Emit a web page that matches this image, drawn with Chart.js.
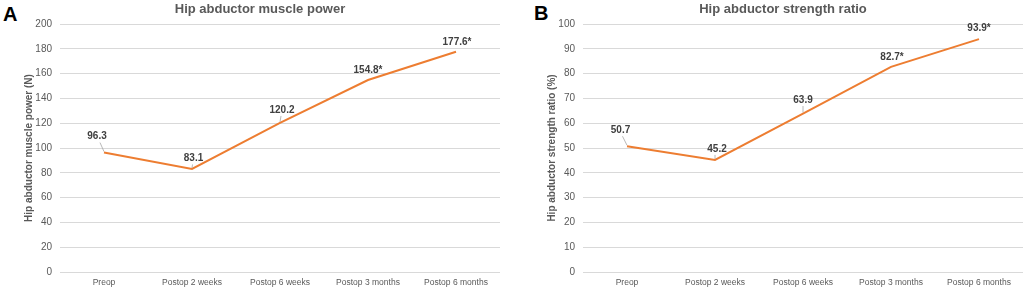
<!DOCTYPE html>
<html>
<head>
<meta charset="utf-8">
<script src="https://cdn.jsdelivr.net/npm/chart.js@4/dist/chart.umd.min.js"></script>
<style>
  html, body { margin: 0; padding: 0; background: #fff; }
  body { width: 1026px; height: 289px; position: relative; overflow: hidden; font-family: 'Liberation Sans', Arial, sans-serif; }
  .panel { position: absolute; top: 0; }
  .letter { position: absolute; font-weight: bold; font-size: 20px; line-height: 20px; color: #000; }
</style>
</head>
<body>
<div class="letter" style="left:3px;top:4px;">A</div>
<div class="letter" style="left:534px;top:3px;">B</div>
<canvas id="chartA" class="panel" width="510" height="289" style="left:0px;"></canvas>
<canvas id="chartB" class="panel" width="516" height="289" style="left:510px;"></canvas>
<script>
// ---- data ----
const categories = ['Preop', 'Postop 2 weeks', 'Postop 6 weeks', 'Postop 3 months', 'Postop 6 months'];
const powerValues = [96.3, 83.1, 120.2, 154.8, 177.6];
const ratioValues = [50.7, 45.2, 63.9, 82.7, 93.9];
const significant = [false, false, false, true, true];
const powerTitle = 'Hip abductor muscle power';
const ratioTitle = 'Hip abductor strength ratio';
const powerAxisTitle = 'Hip abductor muscle power (N)';
const ratioAxisTitle = 'Hip abductor strength ratio (%)';

const FONT = "'Liberation Sans', Arial, sans-serif";
const GRAY = '#595959';

const pointLabelPlugin = {
  id: 'pointLabels',
  afterDatasetsDraw(chart, args, opts) {
    const ctx = chart.ctx;
    const meta = chart.getDatasetMeta(0);
    const vals = chart.data.datasets[0].data;
    ctx.save();
    ctx.font = 'bold 10px ' + FONT;
    ctx.textAlign = 'center';
    ctx.textBaseline = 'middle';
    meta.data.forEach((pt, i) => {
      const o = opts.offsets[i];
      const lx = pt.x + o[0], ly = pt.y + o[1];
      const txt = vals[i].toFixed(1) + (significant[i] ? '*' : '');
      if (o[2]) {
        ctx.strokeStyle = '#a6a6a6';
        ctx.lineWidth = 0.8;
        ctx.beginPath();
        ctx.moveTo(lx + o[3], ly + 6);
        ctx.lineTo(pt.x, pt.y - 1);
        ctx.stroke();
      }
      ctx.fillStyle = '#404040';
      ctx.fillText(txt, lx, ly);
    });
    ctx.restore();
  }
};

function makeChart(id, values, title, axisTitle, maxV, step, padLeft, padRight, offsets) {
  return new Chart(document.getElementById(id), {
    type: 'line',
    data: {
      labels: categories,
      datasets: [{
        data: values,
        borderColor: '#ED7D31',
        borderWidth: 2,
        pointRadius: 0,
        tension: 0,
        fill: false
      }]
    },
    options: {
      responsive: false,
      animation: false,
      devicePixelRatio: 1,
      layout: { padding: { left: padLeft, right: padRight, top: 0, bottom: 0 } },
      plugins: {
        legend: { display: false },
        tooltip: { enabled: false },
        title: {
          display: true,
          text: title,
          color: GRAY,
          font: { family: FONT, size: 13, weight: 'bold' },
          padding: { top: 2, bottom: 6.4 }
        },
        pointLabels: { offsets: offsets }
      },
      scales: {
        x: {
          offset: true,
          grid: { display: false, drawTicks: false },
          border: { display: false },
          ticks: {
            color: GRAY,
            font: { family: FONT, size: 8.5 },
            padding: 6,
            maxRotation: 0,
            autoSkip: false
          },
          afterFit(scale) { scale.height = 17; }
        },
        y: {
          min: 0,
          max: maxV,
          grid: { color: '#d9d9d9', lineWidth: 1, drawTicks: false },
          border: { display: false },
          ticks: {
            stepSize: step,
            color: GRAY,
            font: { family: FONT, size: 10 },
            padding: 8
          },
          title: {
            display: true,
            text: axisTitle,
            color: GRAY,
            font: { family: FONT, size: 10, weight: 'bold' },
            padding: { top: 3, bottom: 0 }
          },
          afterFit(scale) { scale.width = 40; }
        }
      }
    },
    plugins: [pointLabelPlugin]
  });
}

// label offsets: [dx, dy, leaderLine, leaderStartDx]
makeChart('chartA', powerValues, powerTitle, powerAxisTitle, 200, 20, 20, 10,
  [[-7, -16, true, 3], [1.5, -10.5, true, -1], [2, -13, true, -1], [0, -9.5, false, 0], [1, -10, false, 0]]);
makeChart('chartB', ratioValues, ratioTitle, ratioAxisTitle, 100, 10, 33, 3,
  [[-6.5, -16, true, 2], [2, -11, true, -2], [0, -13.5, true, 0], [1, -10, false, 0], [0, -11, false, 0]]);
</script>
</body>
</html>
